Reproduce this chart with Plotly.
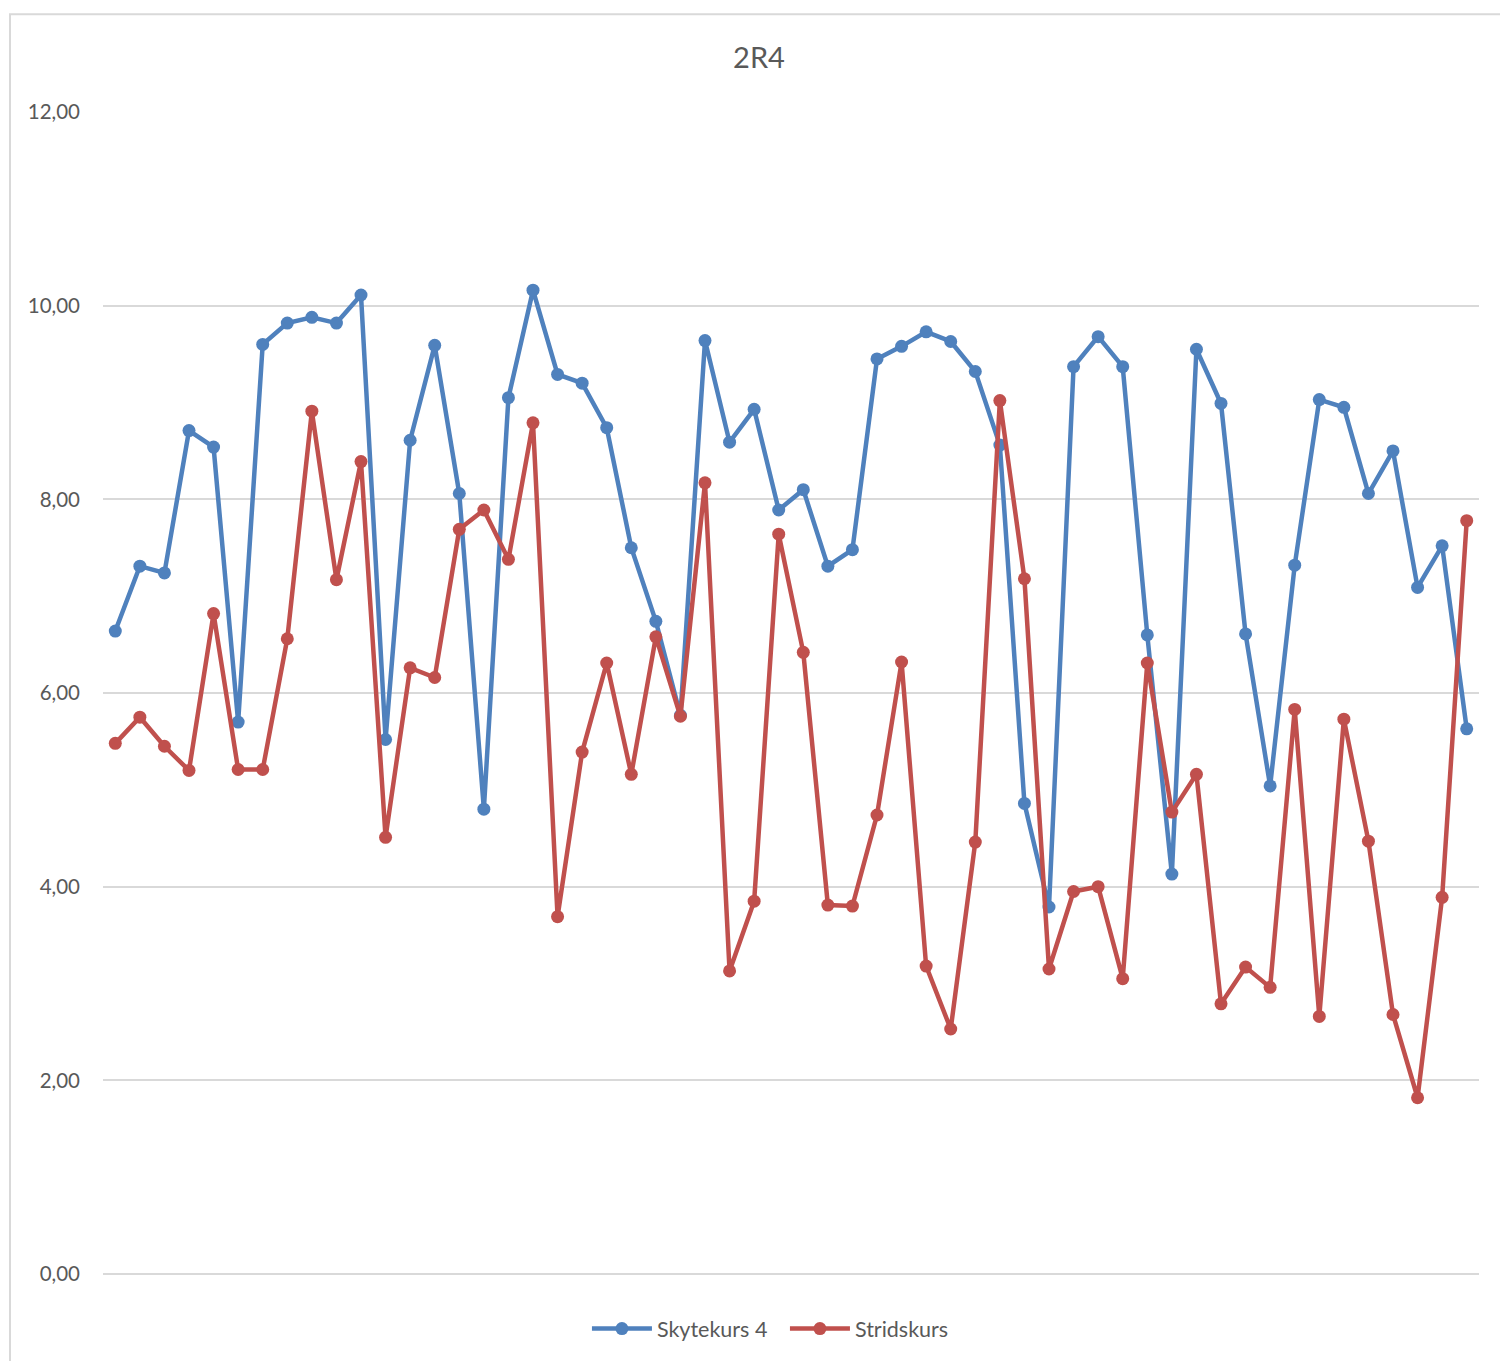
import plotly.graph_objects as go

categories = list(range(1, 57))
skytekurs4 = [6.64, 7.31, 7.24, 8.71, 8.54, 5.70, 9.60, 9.82, 9.88, 9.82,
              10.11, 5.52, 8.61, 9.59, 8.06, 4.80, 9.05, 10.16, 9.29, 9.20,
              8.74, 7.50, 6.74, 5.77, 9.64, 8.59, 8.93, 7.89, 8.10, 7.31,
              7.48, 9.45, 9.58, 9.73, 9.63, 9.32, 8.56, 4.86, 3.79, 9.37,
              9.68, 9.37, 6.60, 4.13, 9.55, 8.99, 6.61, 5.04, 7.32, 9.03,
              8.95, 8.06, 8.50, 7.09, 7.52, 5.63]
stridskurs = [5.48, 5.75, 5.45, 5.20, 6.82, 5.21, 5.21, 6.56, 8.91, 7.17,
              8.39, 4.51, 6.26, 6.16, 7.69, 7.89, 7.38, 8.79, 3.69, 5.39,
              6.31, 5.16, 6.58, 5.76, 8.17, 3.13, 3.85, 7.64, 6.42, 3.81,
              3.80, 4.74, 6.32, 3.18, 2.53, 4.46, 9.02, 7.18, 3.15, 3.95,
              4.00, 3.05, 6.31, 4.77, 5.16, 2.79, 3.17, 2.96, 5.83, 2.66,
              5.73, 4.47, 2.68, 1.82, 3.89, 7.78]
y_ticks = [0, 2, 4, 6, 8, 10, 12]

fig = go.Figure()
fig.add_trace(go.Scatter(x=categories, y=skytekurs4, name="Skytekurs 4",
                         mode="lines+markers",
                         line=dict(color="#4F81BD", width=4.5),
                         marker=dict(color="#4F81BD", size=13)))
fig.add_trace(go.Scatter(x=categories, y=stridskurs, name="Stridskurs",
                         mode="lines+markers",
                         line=dict(color="#C0504D", width=4.5),
                         marker=dict(color="#C0504D", size=13)))

fig.update_layout(
    width=1500, height=1361,
    margin=dict(l=103, r=21, t=112, b=84),
    paper_bgcolor="white", plot_bgcolor="white",
    separators=",.",
    font=dict(family="Lato, Open Sans, sans-serif", color="#595959", size=20.5),
    title=dict(text="2R4", x=0.506, xanchor="center", y=1 - 58 / 1361,
               yanchor="middle", font=dict(size=29, color="#595959")),
    showlegend=True,
    legend=dict(orientation="h", x=0.4956, xanchor="center", y=-0.047,
                yanchor="middle", font=dict(size=21.5, color="#595959"),
                itemwidth=60, tracegroupgap=0,
                entrywidth=123, entrywidthmode="pixels"),
    xaxis=dict(range=[0.5, 56.5], showticklabels=False, showgrid=False,
               zeroline=False, showline=False, ticks=""),
    yaxis=dict(range=[0, 12], tickvals=y_ticks, tickformat=".2f",
               showgrid=True, gridcolor="#D9D9D9", gridwidth=1.5,
               zeroline=True, zerolinecolor="#D9D9D9", zerolinewidth=1.5,
               showline=False, ticks="",
               ticklabelstandoff=22),
    shapes=[dict(type="rect", xref="paper", yref="paper",
                 x0=(10 - 103) / 1376, x1=(1520 - 103) / 1376,
                 y0=(1276 - 1380) / 1165, y1=(1276 - 13) / 1165,
                 line=dict(color="#D9D9D9", width=2), layer="below")],
)

fig.write_html("out.html")
